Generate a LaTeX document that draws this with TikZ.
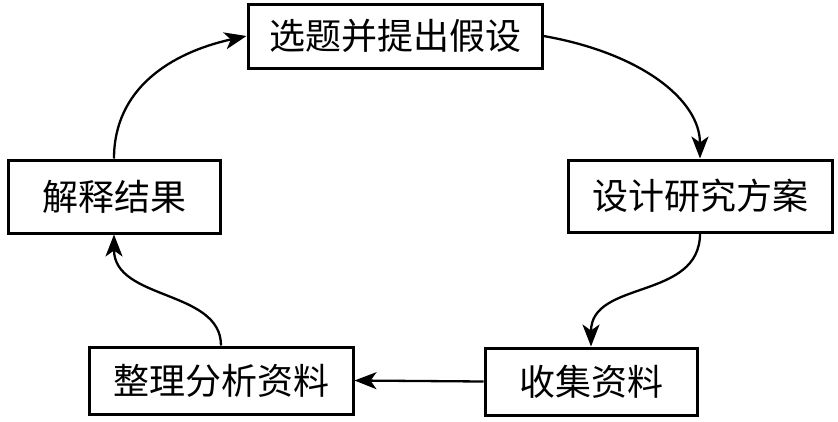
\documentclass[tikz,border=0pt]{standalone}
\usepackage{fontspec}
\newfontfamily\cjk{Noto Sans CJK SC}
\usetikzlibrary{arrows.meta}
\begin{document}
\begin{tikzpicture}[x=1pt,y=-1pt,
  box/.style={draw=black,line width=3pt,fill=white,inner sep=0pt,
    font=\cjk\fontsize{36}{40}\selectfont},
  arr/.style={line width=2.3pt,-{Stealth[length=22pt,width=17pt,inset=6pt]}}]
\useasboundingbox (0,0) rectangle (838,421);
\node[box,minimum width=294pt,minimum height=64pt] (b1) at (395,36) {选题并提出假设};
\node[box,minimum width=264pt,minimum height=72pt] (b2) at (700,196) {设计研究方案};
\node[box,minimum width=212pt,minimum height=67pt] (b3) at (591,381.5) {收集资料};
\node[box,minimum width=264pt,minimum height=67pt] (b4) at (221,380.5) {整理分析资料};
\node[box,minimum width=212pt,minimum height=73pt] (b5) at (114,196.5) {解释结果};
\draw[arr] (b1.east) .. controls +(97,17) and +(0,-59) .. (b2.north);
\draw[arr] (b2.south) .. controls +(0,67) and +(0,-67) .. (b3.north);
\draw[arr] (b3.west) -- (b4.east);
\draw[arr] (b4.north) .. controls +(0,-56) and +(0,66) .. (b5.south);
\draw[arr] (b5.north) .. controls +(0,-69) and +(-77,17) .. (b1.west);
\end{tikzpicture}
\end{document}
